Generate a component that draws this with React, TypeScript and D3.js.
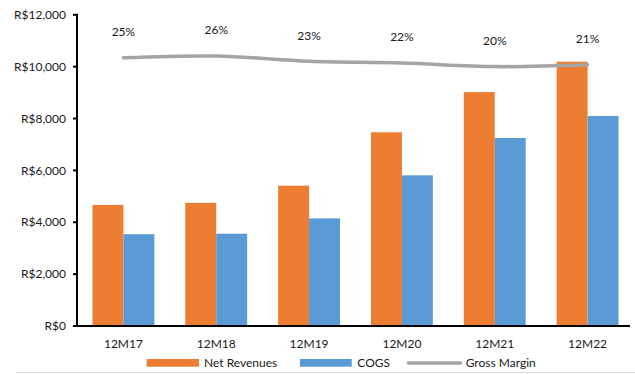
import React from "react";
import * as d3 from "d3";

// Fiscal periods (trailing twelve months)
const categories = ["12M17", "12M18", "12M19", "12M20", "12M21", "12M22"];
// Values in R$ millions
const netRevenues = [4670, 4750, 5410, 7470, 9020, 10190];
const cogs = [3540, 3560, 4150, 5810, 7250, 8100];
// Gross margin as a fraction of net revenues
const grossMargin = [0.25, 0.26, 0.23, 0.22, 0.2, 0.21];
const yTicks = [0, 2000, 4000, 6000, 8000, 10000, 12000];

const W = 635;
const H = 374;
const ORANGE = "#ED7D31";
const BLUE = "#5B9BD5";
const GRAY = "#A5A5A5";
const TEXT = "#1a1a1a";
const FONT = "Lato, 'Open Sans', sans-serif";

export default function App() {
  const left = 77;
  const right = 634;
  const bottom = 326;
  const top = 14.8;

  const x = d3.scaleBand<string>().domain(categories).range([left, right]).padding(0);
  const step = x.bandwidth();
  const barW = step / 3;
  const center = (c: string) => (x(c) as number) + step / 2;

  const y = d3.scaleLinear().domain([0, 12000]).range([bottom, top]);
  // Secondary (hidden) axis for the margin line
  const y2 = d3.scaleLinear().domain([0, 0.3]).range([101.9, 48.95]);

  const fmtMoney = (v: number) => "R$" + d3.format(",")(v);
  const fmtPct = d3.format(".0%");

  const linePts: [number, number][] = categories.map((c, i) => [center(c), y2(grossMargin[i])]);
  const line = d3.line().curve(d3.curveCatmullRom.alpha(0.5))(linePts) || "";

  return (
    <svg
      width={W}
      height={H}
      style={{ position: "absolute", left: 0, top: 0, background: "#fff" }}
      fontFamily={FONT}
    >
      <rect x={0} y={0} width={W} height={H} fill="#fff" />

      {/* bars */}
      {categories.map((c, i) => (
        <g key={c}>
          <rect
            x={center(c) - barW}
            y={y(netRevenues[i])}
            width={barW}
            height={bottom - y(netRevenues[i])}
            fill={ORANGE}
          />
          <rect
            x={center(c)}
            y={y(cogs[i])}
            width={barW}
            height={bottom - y(cogs[i])}
            fill={BLUE}
          />
        </g>
      ))}

      {/* gross margin line and labels */}
      <path d={line} fill="none" stroke={GRAY} strokeWidth={3.5} strokeLinecap="round" strokeLinejoin="round" />
      {categories.map((c, i) => (
        <text
          key={"m" + c}
          x={center(c)}
          y={y2(grossMargin[i]) - 26}
          dy="0.35em"
          textAnchor="middle"
          fontSize={12}
          fill={TEXT}
        >
          {fmtPct(grossMargin[i])}
        </text>
      ))}

      {/* y axis */}
      <line x1={left} x2={left} y1={top - 1} y2={bottom + 1} stroke="#000" strokeWidth={2} />
      {yTicks.map((t) => (
        <g key={t}>
          <line x1={left - 4} x2={left} y1={y(t)} y2={y(t)} stroke="#000" strokeWidth={2} />
          <text x={66} y={y(t)} dy="0.35em" textAnchor="end" fontSize={12} fill={TEXT}>
            {fmtMoney(t)}
          </text>
        </g>
      ))}

      {/* x axis */}
      <line x1={left - 1} x2={630} y1={bottom} y2={bottom} stroke="#000" strokeWidth={2} />
      {categories.map((c) => (
        <text key={"x" + c} x={center(c)} y={343.3} dy="0.35em" textAnchor="middle" fontSize={12} fill={TEXT}>
          {c}
        </text>
      ))}

      {/* legend */}
      <g fontSize={12} fill={TEXT}>
        <rect x={146.7} y={359} width={52.3} height={7.7} fill={ORANGE} />
        <text x={204} y={362.8} dy="0.35em">Net Revenues</text>
        <rect x={300} y={359} width={51.7} height={7.7} fill={BLUE} />
        <text x={357.3} y={362.8} dy="0.35em">COGS</text>
        <line x1={408.5} x2={460.5} y1={363} y2={363} stroke={GRAY} strokeWidth={3.5} strokeLinecap="round" />
        <text x={465.7} y={362.8} dy="0.35em">Gross Margin</text>
      </g>

      {/* chart area border */}
      <line x1={16} x2={W} y1={372.5} y2={372.5} stroke="#d9d9d9" strokeWidth={1} />
    </svg>
  );
}
